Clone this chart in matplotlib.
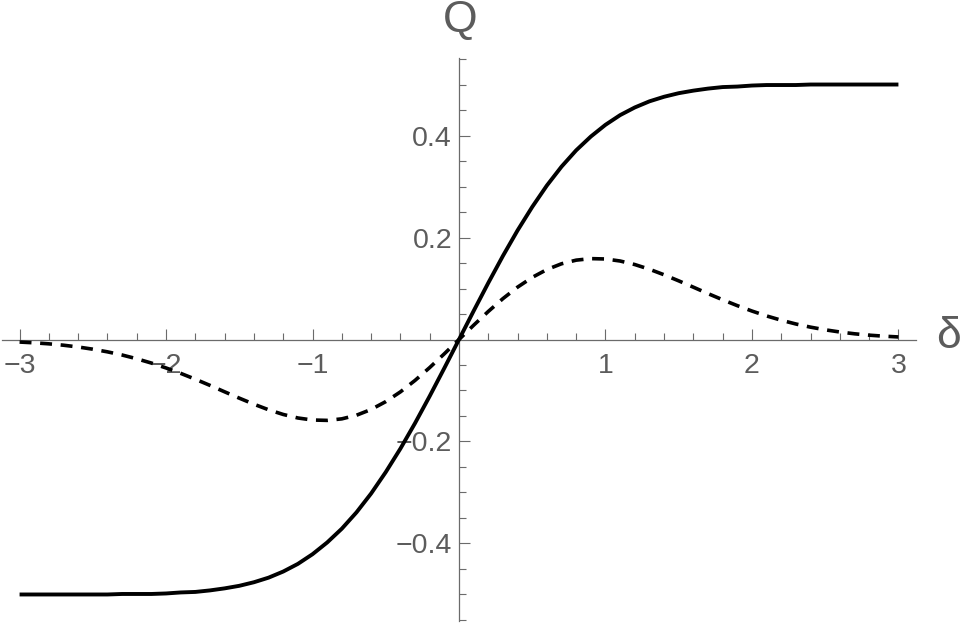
import numpy as np
import matplotlib
matplotlib.use("Agg")
import matplotlib.pyplot as plt
from matplotlib.ticker import FixedLocator

plt.rcParams['font.family'] = ['Liberation Sans', 'DejaVu Sans']

# ---- data ----
delta = [-3.0, -2.9, -2.8, -2.7, -2.6, -2.5, -2.4, -2.3, -2.2, -2.1,
         -2.0, -1.9, -1.8, -1.7, -1.6, -1.5, -1.4, -1.3, -1.2, -1.1,
         -1.0, -0.9, -0.8, -0.7, -0.6, -0.5, -0.4, -0.3, -0.2, -0.1,
         0.0, 0.1, 0.2, 0.3, 0.4, 0.5, 0.6, 0.7, 0.8, 0.9,
         1.0, 1.1, 1.2, 1.3, 1.4, 1.5, 1.6, 1.7, 1.8, 1.9,
         2.0, 2.1, 2.2, 2.3, 2.4, 2.5, 2.6, 2.7, 2.8, 2.9, 3.0]

q_solid = [-0.500, -0.500, -0.500, -0.500, -0.500, -0.500, -0.500, -0.499, -0.499, -0.499,
           -0.498, -0.496, -0.495, -0.492, -0.488, -0.483, -0.476, -0.467, -0.455, -0.440,
           -0.421, -0.398, -0.371, -0.339, -0.302, -0.260, -0.214, -0.164, -0.111, -0.056,
           0.000, 0.056, 0.111, 0.164, 0.214, 0.260, 0.302, 0.339, 0.371, 0.398,
           0.421, 0.440, 0.455, 0.467, 0.476, 0.483, 0.488, 0.492, 0.495, 0.496,
           0.498, 0.499, 0.499, 0.499, 0.500, 0.500, 0.500, 0.500, 0.500, 0.500, 0.500]

q_dashed = [-0.0050, -0.0065, -0.0085, -0.0112, -0.0147, -0.0190, -0.0242, -0.0304, -0.0378, -0.0462,
            -0.0558, -0.0664, -0.0779, -0.0900, -0.1026, -0.1150, -0.1269, -0.1378, -0.1470, -0.1539,
            -0.1579, -0.1586, -0.1556, -0.1485, -0.1372, -0.1218, -0.1027, -0.0802, -0.0550, -0.0280,
            0.0, 0.0280, 0.0550, 0.0802, 0.1027, 0.1218, 0.1372, 0.1485, 0.1556, 0.1586,
            0.1579, 0.1539, 0.1470, 0.1378, 0.1269, 0.1150, 0.1026, 0.0900, 0.0779, 0.0664,
            0.0558, 0.0462, 0.0378, 0.0304, 0.0242, 0.0190, 0.0147, 0.0112, 0.0085, 0.0065, 0.0050]

x_major = [-3, -2, -1, 1, 2, 3]
x_labels = ['\u22123', '\u22122', '\u22121', '1', '2', '3']
y_major = [-0.4, -0.2, 0.2, 0.4]
y_labels = ['\u22120.4', '\u22120.2', '0.2', '0.4']

axcol = '#6b6b6b'
txtcol = '#5c5c5c'

W, H = 961, 624
fig = plt.figure(figsize=(W / 100, H / 100), dpi=100)
ax = fig.add_axes([2 / W, 1 - 621 / H, 914 / W, 563 / H])
ax.patch.set_alpha(0)

ax.plot(delta, q_solid, color='black', lw=2.8, zorder=3, solid_capstyle='butt')
ax.plot(delta, q_dashed, color='black', lw=2.6, zorder=3,
        dashes=(3.3, 2.4), dash_capstyle='butt')

ax.set_xlim(-3.12, 3.12)
ax.set_ylim(-0.552, 0.552)

for s in ['top', 'right']:
    ax.spines[s].set_visible(False)
for s in ['left', 'bottom']:
    ax.spines[s].set_position(('data', 0))
    ax.spines[s].set_color(axcol)
    ax.spines[s].set_linewidth(0.9)

ax.set_xticks(x_major)
ax.set_xticklabels(x_labels)
ax.set_yticks(y_major)
ax.set_yticklabels(y_labels)

xmin = [round(v / 5, 1) for v in range(-15, 16) if v % 5 != 0]
ymin = [round(v / 20, 2) for v in range(-11, 12) if v % 4 != 0]
ax.xaxis.set_minor_locator(FixedLocator(xmin))
ax.yaxis.set_minor_locator(FixedLocator(ymin))

ax.tick_params(which='both', direction='in', color=axcol, width=0.8,
               labelcolor=txtcol, labelsize=20.5)
ax.tick_params(which='major', length=7.8)
ax.tick_params(which='minor', length=4.8)
ax.tick_params(axis='x', pad=10)
ax.tick_params(axis='y', pad=5)

fig.text(460 / W, 1 - 21 / H, 'Q', ha='center', va='center', fontsize=32, color=txtcol)
fig.text(948 / W, 1 - 336 / H, '\u03b4', ha='center', va='center', fontsize=32, color=txtcol)

fig.savefig('out.png', dpi=100)
